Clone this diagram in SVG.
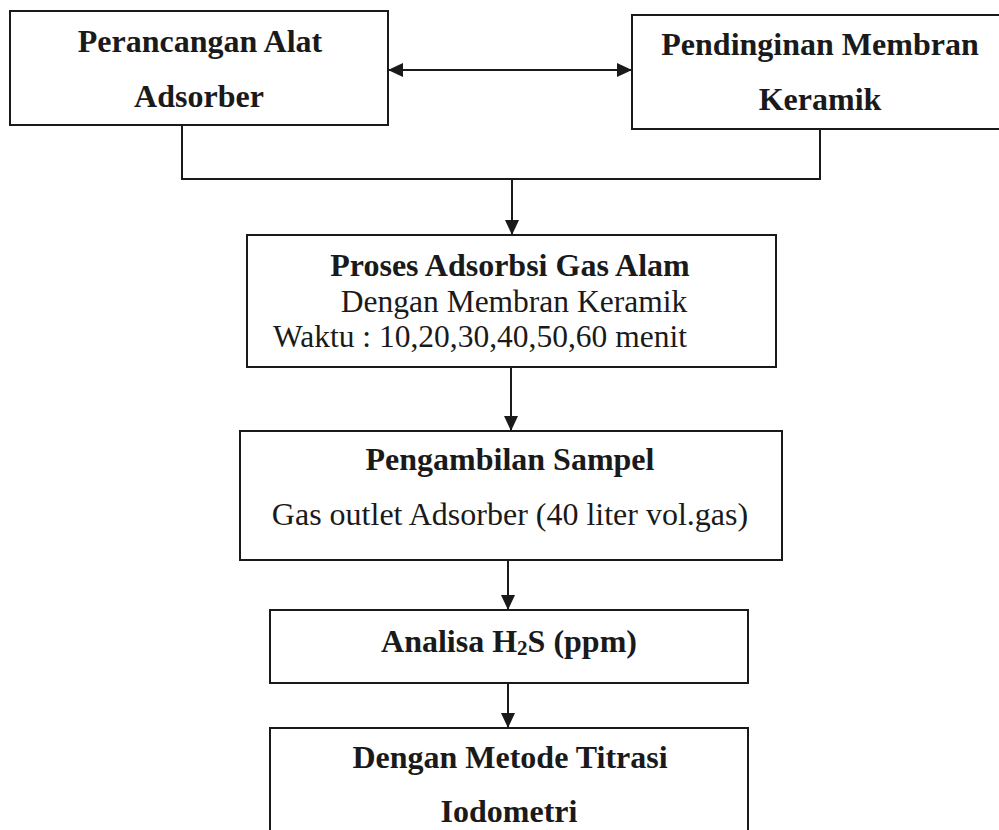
<svg xmlns="http://www.w3.org/2000/svg" width="999" height="830" viewBox="0 0 999 830">
<defs>
<marker id="ah" markerUnits="userSpaceOnUse" markerWidth="15" markerHeight="14" refX="15" refY="7" orient="auto-start-reverse">
<path d="M0,0 L15,7 L0,14 z" fill="#1a1a1a"/>
</marker>
</defs>
<style>
.box{fill:#fff;stroke:#1a1a1a;stroke-width:2}
.b{font-family:"Liberation Serif","Times New Roman",serif;font-weight:bold;font-size:32px;fill:#1a1a1a;text-anchor:middle}
.r{font-family:"Liberation Serif","Times New Roman",serif;font-size:31.5px;fill:#1a1a1a}
.ln{fill:none;stroke:#1a1a1a;stroke-width:2}
</style>
<rect width="999" height="830" fill="#fff"/>
<g id="connectors">
<line class="ln" x1="388" y1="70" x2="632" y2="70" marker-start="url(#ah)" marker-end="url(#ah)"/>
<polyline class="ln" points="182,125 182,179 820,179 820,129"/>
<line class="ln" x1="512" y1="179" x2="512" y2="235" marker-end="url(#ah)"/>
<line class="ln" x1="511" y1="367" x2="511" y2="431" marker-end="url(#ah)"/>
<line class="ln" x1="508" y1="560" x2="508" y2="610" marker-end="url(#ah)"/>
<line class="ln" x1="508" y1="683" x2="508" y2="728" marker-end="url(#ah)"/>
</g>
<g id="perancangan">
<rect class="box" x="10" y="11" width="378" height="114"/>
<text class="b" x="200" y="52">Perancangan Alat</text>
<text class="b" x="199" y="107">Adsorber</text>
</g>
<g id="pendinginan">
<rect class="box" x="632" y="15" width="372" height="114"/>
<text class="b" x="820" y="55">Pendinginan Membran</text>
<text class="b" x="820" y="110">Keramik</text>
</g>
<g id="proses">
<rect class="box" x="247" y="235" width="529" height="132"/>
<text class="b" x="510" y="276">Proses Adsorbsi Gas Alam</text>
<text class="r" x="514" y="312" text-anchor="middle">Dengan Membran Keramik</text>
<text class="r" x="273" y="347">Waktu : 10,20,30,40,50,60 menit</text>
</g>
<g id="pengambilan">
<rect class="box" x="240" y="431" width="542" height="129"/>
<text class="b" x="510" y="470">Pengambilan Sampel</text>
<text class="r" x="510" y="525" text-anchor="middle" style="font-size:32px">Gas outlet Adsorber (40 liter vol.gas)</text>
</g>
<g id="analisa">
<rect class="box" x="270" y="610" width="478" height="73"/>
<text class="b" x="509" y="652">Analisa H<tspan font-size="21" dy="3">2</tspan><tspan dy="-3">S (ppm)</tspan></text>
</g>
<g id="metode">
<rect class="box" x="270" y="728" width="478" height="120"/>
<text class="b" x="510" y="768">Dengan Metode Titrasi</text>
<text class="b" x="509" y="822">Iodometri</text>
</g>
</svg>
